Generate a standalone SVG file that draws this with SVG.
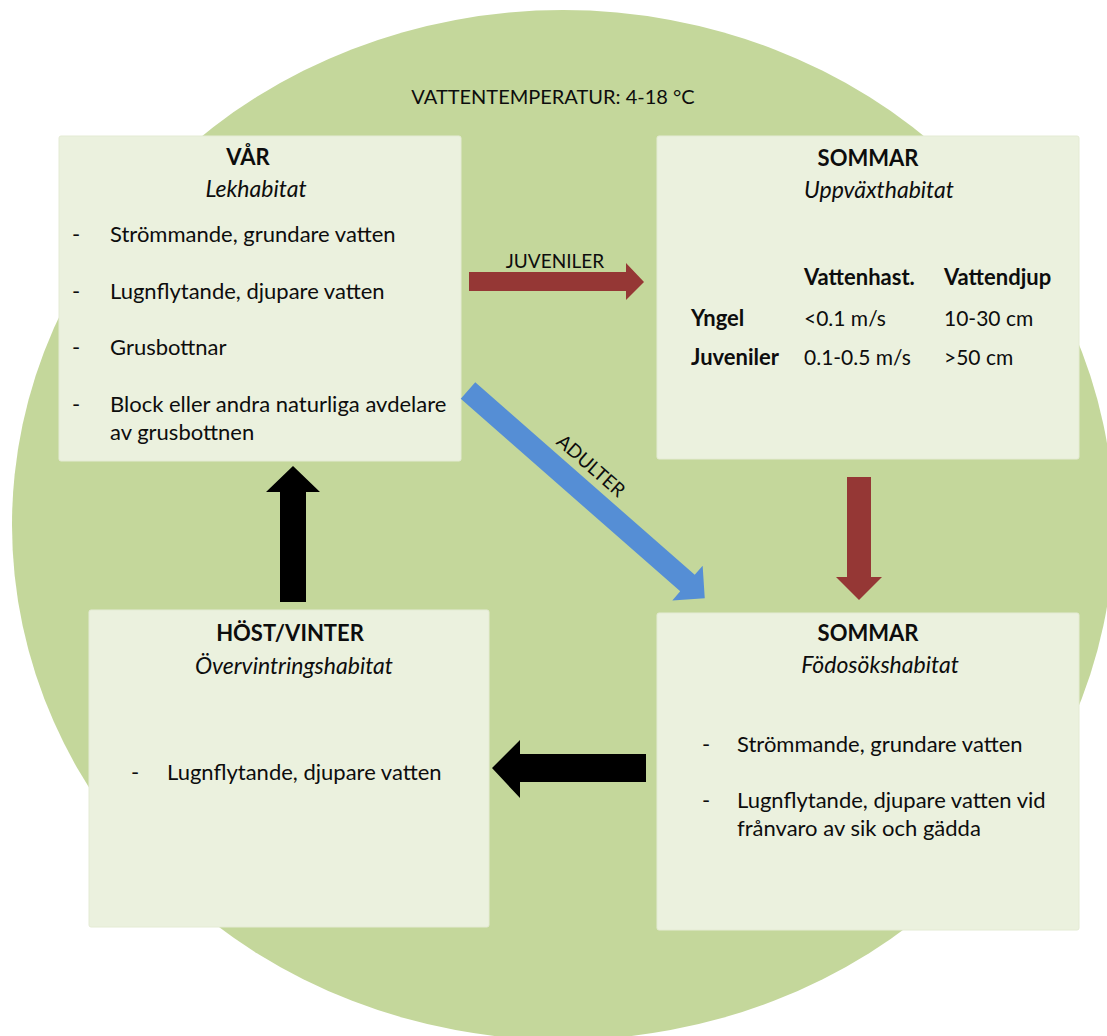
<svg xmlns="http://www.w3.org/2000/svg" width="1107" height="1036" viewBox="0 0 1107 1036">
  <style>
    text { font-family: Lato, "Open Sans", "Liberation Sans", sans-serif; fill: #0d0d0d; font-size: 22px; }
    .title { font-weight: bold; text-anchor: middle; font-size: 22px; }
    .sub { font-style: italic; text-anchor: middle; font-size: 23px; }
    .b { font-weight: bold; }
    .t { font-size: 21px; }
    .lbl { font-size: 19px; }
    .temp { font-size: 20px; }
    .box { fill: #EBF1DE; stroke: #E4EBD4; stroke-width: 1; }
  </style>
  <rect width="1107" height="1036" fill="#ffffff"/>
  <g id="background">
    <ellipse cx="563" cy="525" rx="551" ry="515" fill="#C4D79B"/>
    <text class="temp" x="553" y="104" text-anchor="middle">VATTENTEMPERATUR: 4-18 °C</text>
  </g>

  <g id="var">
    <rect class="box" x="59" y="136" width="402" height="325" rx="2"/>
    <text class="title" x="248" y="165">VÅR</text>
    <text class="sub" x="256" y="197">Lekhabitat</text>
    <text x="72" y="242">-</text><text x="110" y="242">Strömmande, grundare vatten</text>
    <text x="72" y="299">-</text><text x="110" y="299">Lugnflytande, djupare vatten</text>
    <text x="72" y="355">-</text><text x="110" y="355">Grusbottnar</text>
    <text x="72" y="412">-</text><text x="110" y="412">Block eller andra naturliga avdelare</text>
    <text x="110" y="440">av grusbottnen</text>
  </g>

  <g id="sommar-uppvaxt">
    <rect class="box" x="657" y="136" width="422" height="323" rx="2"/>
    <text class="title" x="868" y="166">SOMMAR</text>
    <text class="sub" x="879" y="198">Uppväxthabitat</text>
    <text class="b" x="804" y="285">Vattenhast.</text>
    <text class="b" x="944" y="285">Vattendjup</text>
    <text class="b" x="691" y="326">Yngel</text>
    <text class="t" x="804" y="326">&lt;0.1 m/s</text>
    <text class="t" x="944" y="326">10-30 cm</text>
    <text class="b" x="691" y="365">Juveniler</text>
    <text class="t" x="804" y="365">0.1-0.5 m/s</text>
    <text class="t" x="944" y="365">&gt;50 cm</text>
  </g>

  <g id="host-vinter">
    <rect class="box" x="89" y="610" width="400" height="317" rx="2"/>
    <text class="title" x="290" y="641">HÖST/VINTER</text>
    <text class="sub" x="294" y="674">Övervintringshabitat</text>
    <text x="131" y="780">-</text><text x="167" y="780">Lugnflytande, djupare vatten</text>
  </g>

  <g id="sommar-fodosok">
    <rect class="box" x="657" y="613" width="422" height="317" rx="2"/>
    <text class="title" x="868" y="641">SOMMAR</text>
    <text class="sub" x="880" y="673">Födosökshabitat</text>
    <text x="702" y="752">-</text><text x="737" y="752">Strömmande, grundare vatten</text>
    <text x="702" y="808">-</text><text x="737" y="808">Lugnflytande, djupare vatten vid</text>
    <text x="737" y="836">frånvaro av sik och gädda</text>
  </g>

  <g id="connectors">
    <polygon fill="#953735" points="469,272 626,272 626,263 644,282 626,300 626,291 469,291"/>
    <text class="lbl" x="555" y="268" text-anchor="middle">JUVENILER</text>
    <polygon fill="#953735" points="847,477 871,477 871,577 882,577 859,600 836,577 847,577"/>
    <g transform="translate(468,390.5) rotate(41.27)">
      <polygon fill="#558ED5" points="0,-11 292,-11 292,-23 315,0 292,23 292,11 0,11"/>
      <text class="lbl" x="142" y="-18" text-anchor="middle">ADULTER</text>
    </g>
    <polygon fill="#000000" points="280,602 280,492 266,492 293,466 320,492 306,492 306,602"/>
    <polygon fill="#000000" points="646,754 520,754 520,740 492,768 520,798 520,782 646,782"/>
  </g>
</svg>
